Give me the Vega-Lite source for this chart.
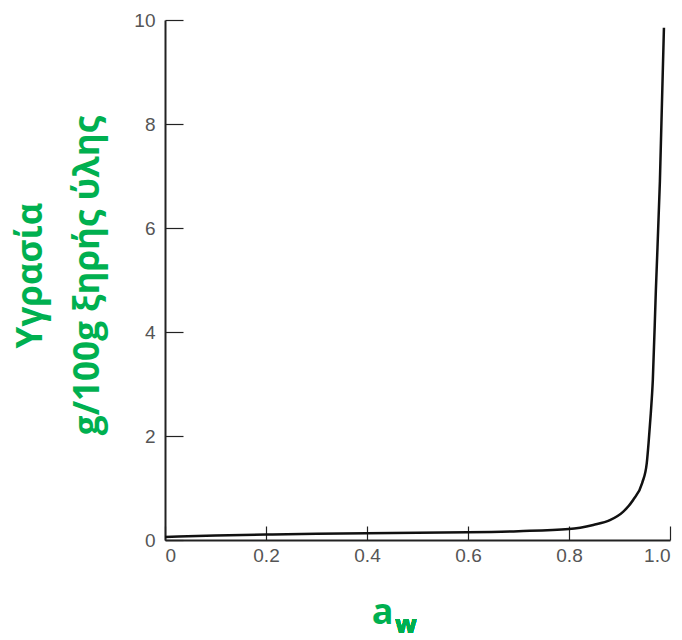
{
  "$schema": "https://vega.github.io/schema/vega-lite/v6.json",
  "width": 505,
  "height": 520,
  "autosize": {"type": "none"},
  "padding": {"left": 165, "top": 20, "right": 12, "bottom": 100},
  "background": "white",
  "config": {"view": {"stroke": null}},
  "data": {"values": [
    {"aw": 0.0, "m": 0.06},
    {"aw": 0.1, "m": 0.085},
    {"aw": 0.2, "m": 0.105},
    {"aw": 0.3, "m": 0.12},
    {"aw": 0.4, "m": 0.13},
    {"aw": 0.5, "m": 0.14},
    {"aw": 0.6, "m": 0.15},
    {"aw": 0.7, "m": 0.17},
    {"aw": 0.8, "m": 0.21},
    {"aw": 0.848, "m": 0.29},
    {"aw": 0.881, "m": 0.38},
    {"aw": 0.907, "m": 0.54},
    {"aw": 0.927, "m": 0.77},
    {"aw": 0.945, "m": 1.1},
    {"aw": 0.954, "m": 1.48},
    {"aw": 0.958, "m": 1.92},
    {"aw": 0.962, "m": 2.44},
    {"aw": 0.966, "m": 3.08},
    {"aw": 0.972, "m": 4.8},
    {"aw": 0.98, "m": 6.9},
    {"aw": 0.988, "m": 9.85}
  ]},
  "layer": [
    {
      "mark": {"type": "line", "color": "#111", "strokeWidth": 2.5, "interpolate": "monotone"},
      "encoding": {
        "x": {
          "field": "aw", "type": "quantitative",
          "scale": {"domain": [0, 1], "nice": false, "zero": false},
          "axis": {
            "title": "a",
            "titleFont": "Open Sans", "titleFontWeight": "bold", "titleFontSize": 36, "titleColor": "#00B050",
            "titleX": 217, "titleY": 83, "titleBaseline": "alphabetic", "titleAlign": "center",
            "values": [0, 0.2, 0.4, 0.6, 0.8, 1.0],
            "labelExpr": "datum.value == 0 ? '0' : format(datum.value, '.1f')",
            "grid": false,
            "tickSize": -14, "tickColor": "#222", "tickWidth": 1.2,
            "labelPadding": 20, "labelFont": "Liberation Sans", "labelFontSize": 19, "labelColor": "#555",
            "domainColor": "#222", "domainWidth": 2
          }
        },
        "y": {
          "field": "m", "type": "quantitative",
          "scale": {"domain": [0, 10], "nice": false},
          "axis": {
            "title": ["Υγρασία", "g/100g ξηρής ύλης"],
            "titleFont": "Open Sans", "titleFontWeight": "bold", "titleFontSize": 35, "titleColor": "#00B050",
            "titleAngle": -90, "titleX": -135, "titleY": 255, "titleBaseline": "middle", "titleAlign": "center",
            "titleLineHeight": 57,
            "values": [0, 2, 4, 6, 8, 10],
            "grid": false,
            "tickSize": -18, "tickColor": "#222", "tickWidth": 1.2,
            "labelPadding": 28, "labelFont": "Liberation Sans", "labelFontSize": 19, "labelColor": "#555",
            "domainColor": "#222", "domainWidth": 2
          }
        }
      }
    },
    {
      "mark": {"type": "text", "text": "w", "font": "Open Sans", "fontWeight": "bold", "fontSize": 25, "color": "#00B050", "align": "center", "baseline": "bottom"},
      "encoding": {
        "x": {"datum": 0.477, "type": "quantitative"},
        "y": {"datum": -1.88, "type": "quantitative"}
      }
    }
  ]
}
